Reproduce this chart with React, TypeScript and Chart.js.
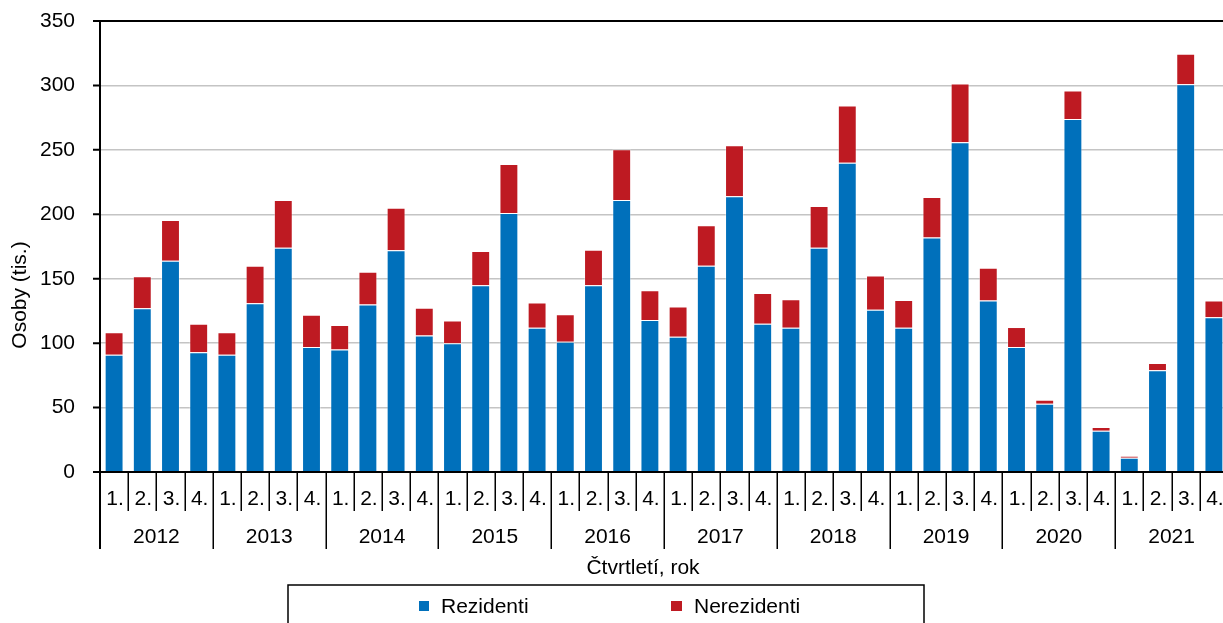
import React, { useEffect, useRef } from "react";
import { Chart, registerables } from "chart.js";

Chart.register(...registerables);

const years = ["2012", "2013", "2014", "2015", "2016", "2017", "2018", "2019", "2020", "2021"];
const quarters = ["1.", "2.", "3.", "4."];
const categories = years.flatMap((y) => quarters.map((q) => `${q} ${y}`));

const rezidenti = [
  91, 127, 164, 93,
  91, 131, 174, 97,
  95, 130, 172, 106,
  100, 145, 201, 112,
  101, 145, 211, 118,
  105, 160, 214, 115,
  112, 174, 240, 126,
  112, 182, 256, 133,
  97, 53, 274, 32,
  11, 79, 301, 120,
];

const nerezidenti = [
  17.5, 25, 31.5, 22,
  17.5, 29, 37, 25,
  19, 25.5, 33, 21.5,
  17.5, 26.5, 38, 19.5,
  21.5, 27.5, 39.5, 23,
  23.5, 31.5, 39.5, 24,
  22, 32.5, 44.5, 26.5,
  21.5, 31.5, 45.5, 25.5,
  15.5, 3, 22, 3,
  1.5, 5.5, 23.5, 13,
];

const yTicks = [0, 50, 100, 150, 200, 250, 300, 350];
const seriesNames = ["Rezidenti", "Nerezidenti"];
const xTitle = "Čtvrtletí, rok";
const yTitle = "Osoby (tis.)";

const BLUE = "#0070bb";
const RED = "#be1a22";
const FONT = "'Liberation Sans', Arial, sans-serif";
const FS = 21;

const decorPlugin = {
  id: "decor",
  afterDraw(chart: any) {
    const { ctx, chartArea, scales } = chart;
    const { left, top, bottom } = chartArea;
    const xs = scales.x;
    const ys = scales.y;
    const W = chart.width;
    const w = xs.getPixelForValue(1) - xs.getPixelForValue(0);
    ctx.save();
    ctx.strokeStyle = "#000";
    ctx.fillStyle = "#000";

    // axes
    ctx.lineWidth = 2;
    ctx.beginPath();
    ctx.moveTo(left, top);
    ctx.lineTo(left, 549);
    ctx.moveTo(left - 7, bottom);
    ctx.lineTo(W, bottom);
    ctx.moveTo(left - 7, top);
    ctx.lineTo(W, top);
    yTicks.forEach((v) => {
      const py = ys.getPixelForValue(v);
      ctx.moveTo(left - 7, py);
      ctx.lineTo(left, py);
    });
    ctx.stroke();

    // category separators
    ctx.lineWidth = 1.5;
    ctx.beginPath();
    for (let i = 1; i <= categories.length; i++) {
      const bx = Math.round(left + i * w) + 0.25;
      ctx.moveTo(bx, bottom);
      ctx.lineTo(bx, i % 4 === 0 ? 549 : 511);
    }
    ctx.stroke();

    // quarter labels
    ctx.font = `${FS}px ${FONT}`;
    ctx.textAlign = "center";
    ctx.textBaseline = "middle";
    categories.forEach((_, i) => {
      const cx = xs.getPixelForValue(i);
      ctx.fillText(quarters[i % 4], cx + 1, 499);
    });
    // year labels
    years.forEach((yr, j) => {
      const cx = left + (j * 4 + 2) * w;
      ctx.fillText(yr, cx, 537);
    });

    // x title
    ctx.fillText(xTitle, 643, 568);

    // y title
    ctx.save();
    ctx.translate(20, 295);
    ctx.rotate(-Math.PI / 2);
    ctx.fillText(yTitle, 0, 0);
    ctx.restore();

    // legend
    ctx.lineWidth = 1.5;
    ctx.strokeRect(288, 585, 636, 80);
    ctx.textAlign = "left";
    ctx.fillStyle = BLUE;
    ctx.fillRect(419, 601, 10, 10);
    ctx.fillStyle = RED;
    ctx.fillRect(671, 601, 11, 10);
    ctx.fillStyle = "#000";
    ctx.fillText(seriesNames[0], 441, 607);
    ctx.fillText(seriesNames[1], 694, 607);
    ctx.restore();
  },
};

export default function App() {
  const ref = useRef<HTMLCanvasElement>(null);

  useEffect(() => {
    if (!ref.current) return;
    const chart = new Chart(ref.current, {
      type: "bar",
      data: {
        labels: categories,
        datasets: [
          {
            label: seriesNames[0],
            data: rezidenti,
            backgroundColor: BLUE,
            borderColor: "rgba(255,255,255,0.35)",
            borderWidth: 1,
            categoryPercentage: 1,
            barPercentage: 0.67,
          },
          {
            label: seriesNames[1],
            data: nerezidenti,
            backgroundColor: RED,
            borderColor: "rgba(255,255,255,0.35)",
            borderWidth: 1,
            categoryPercentage: 1,
            barPercentage: 0.67,
          },
        ],
      },
      options: {
        responsive: false,
        animation: false,
        layout: { padding: { left: 0, top: 21, right: 12, bottom: 151 } },
        plugins: {
          legend: { display: false },
          tooltip: { enabled: false },
        },
        scales: {
          x: {
            stacked: true,
            display: false,
            offset: true,
          },
          y: {
            stacked: true,
            min: 0,
            max: 350,
            afterFit: (scale: any) => {
              scale.width = 100;
              scale.paddingTop = 0;
              scale.paddingBottom = 0;
            },
            ticks: {
              stepSize: 50,
              padding: 25,
              color: "#000",
              font: { family: FONT, size: FS },
            },
            grid: {
              color: "#c4c4c4",
              lineWidth: 1.5,
              drawTicks: false,
            },
            border: { display: false },
          },
        },
      },
      plugins: [decorPlugin],
    });
    return () => chart.destroy();
  }, []);

  return (
    <div
      style={{
        position: "fixed",
        left: 0,
        top: 0,
        width: "100vw",
        height: "100vh",
        overflow: "hidden",
        background: "#fff",
      }}
    >
      <canvas ref={ref} width={1240} height={623} style={{ display: "block" }} />
    </div>
  );
}
